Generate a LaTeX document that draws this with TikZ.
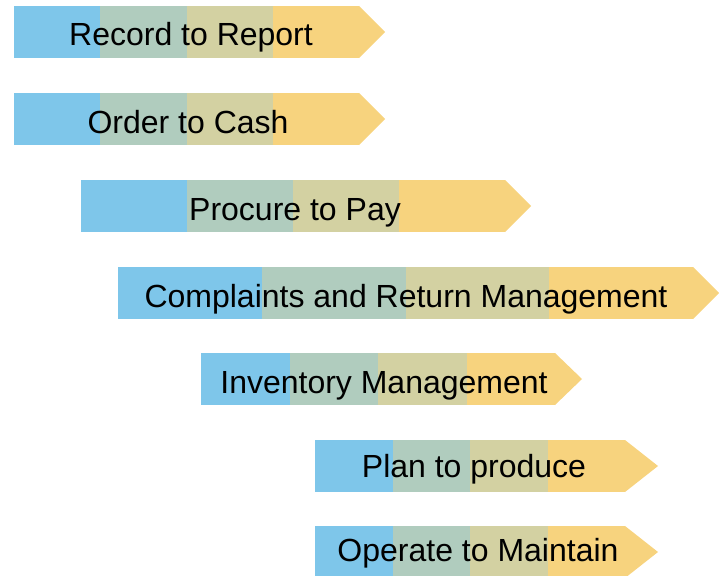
\documentclass[tikz,border=0pt]{standalone}
\usepackage{fontspec}
\setmainfont{Liberation Sans}
\definecolor{segblue}{RGB}{126,198,234}
\definecolor{seggreen}{RGB}{176,204,190}
\definecolor{segolive}{RGB}{211,209,162}
\definecolor{segorange}{RGB}{247,211,126}
\begin{document}
\begin{tikzpicture}[x=1pt,y=-1pt,
    seg/.style={minimum height=52pt,minimum width=#1,inner sep=0pt,outer sep=0pt,anchor=west},
    lbl/.style={font=\fontsize{32}{32}\selectfont,inner sep=0pt,anchor=base}]
\useasboundingbox (0,0) rectangle (719,575);
\foreach \y/\x/\w/\tip/\tx/\ty/\t [count=\i] in {
    32/14/86.25/26/191/46/Record to Report,
    119/14/86.25/26/188/133/Order to Cash,
    206/81/106/26/295/220/Procure to Pay,
    293/118/143.75/26/406/307/Complaints and Return Management,
    379/201/88.5/27/384/393/Inventory Management,
    466/315/77.5/33/474/477/Plan to produce,
    552/315/77.5/33/478/561/Operate to Maintain}{
  \node[seg=\w pt,fill=segblue] (b\i) at (\x,\y) {};
  \node[seg=\w pt,fill=seggreen] (g\i) at (b\i.east) {};
  \node[seg=\w pt,fill=segolive] (o\i) at (g\i.east) {};
  \node[seg=\w pt,fill=segorange] (y\i) at (o\i.east) {};
  \fill[segorange] (y\i.north east) -- ++(\tip,26) -- (y\i.south east) -- cycle;
  \node[lbl] (t\i) at (\tx,\ty) {\t};
}
\end{tikzpicture}
\end{document}
